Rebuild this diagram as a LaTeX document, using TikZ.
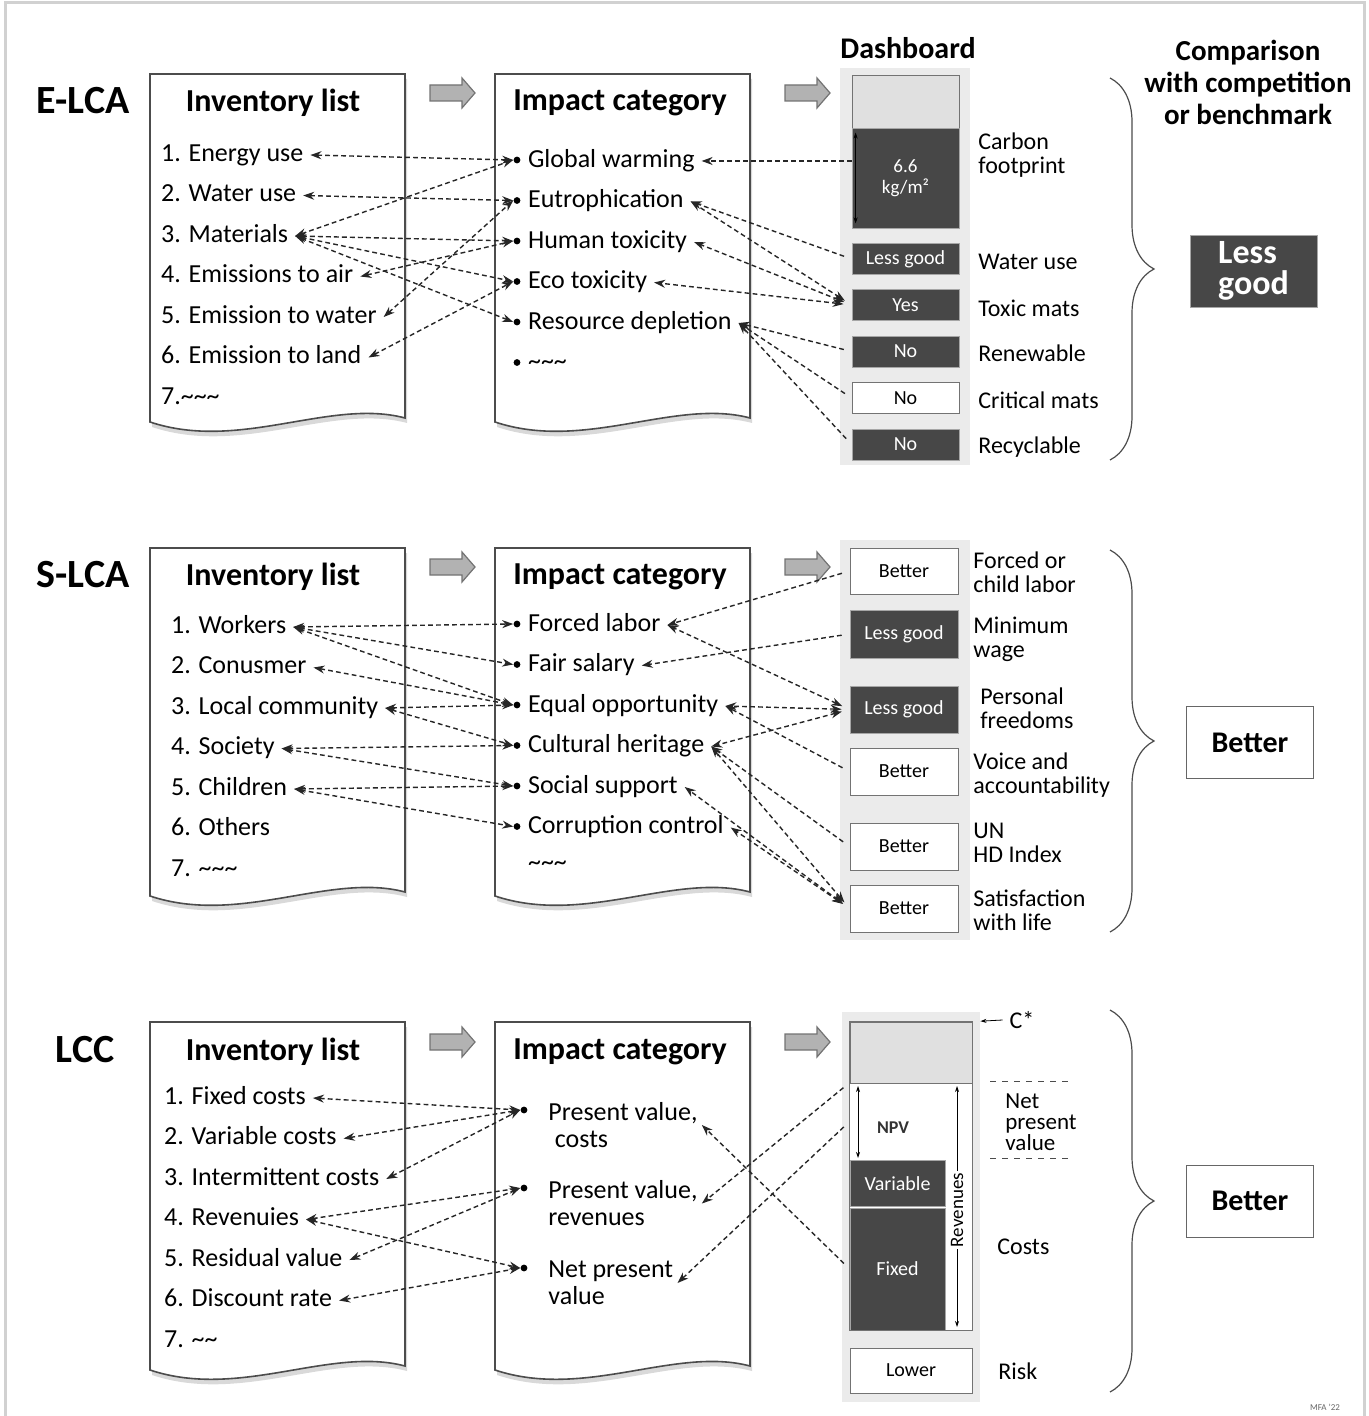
\documentclass[tikz,border=0pt]{standalone}
\usepackage{fontspec}
\setmainfont{Carlito}
\usetikzlibrary{arrows.meta,shadows,decorations.pathreplacing,calc}

\newcommand{\fsz}[2]{\fontsize{#1}{#2}\selectfont}
\newcommand{\tld}{\textasciitilde}
\newcommand{\docpage}[2]{%
  \draw[page, shift={(#1,#2)}] (0,0) -- (255,0) -- (255,344)
    .. controls (180,324) and (90,378) .. (0,348) -- cycle;}
\newcommand{\flowarr}[2]{%
  \draw[flow, shift={(#1,#2)}] (-22,-8) -- (10,-8) -- (10,-15) -- (23,0)
    -- (10,15) -- (10,8) -- (-22,8) -- cycle;}

\tikzset{
  page/.style={draw=black!70, fill=white, line width=0.8pt,
    drop shadow={shadow xshift=1pt, shadow yshift=-2.5pt, opacity=0.3}},
  lbl/.style={font=\bfseries\fsz{20}{24}},
  hdr/.style={font=\bfseries\fsz{16}{19}},
  item/.style={anchor=west, font=\fsz{13}{15}, text height=1.6ex, text depth=.3ex},
  item2/.style={anchor=west, align=left, inner sep=2pt, font=\fsz{13}{13.5}},
  dot/.style={circle, fill=black, inner sep=1.2pt},
  link/.style={dash pattern=on 2.4pt off 1.6pt, line width=0.7pt, black!85},
  flow/.style={draw=black!55, fill=black!30, line width=0.6pt},
  dark/.style={draw=black!35, fill=black!72, text=white, minimum width=53.5pt,
    minimum height=15.5pt, inner sep=0pt, font=\fsz{10}{11}},
  light/.style={dark, fill=white, draw=black!55, text=black},
  note/.style={anchor=west, align=left, inner sep=2pt, font=\fsz{12}{12}},
  result/.style={draw=black!60, fill=white, minimum width=63.5pt, minimum height=36pt,
    font=\bfseries\fsz{15}{17}},
  brc/.style={decorate, decoration={brace, amplitude=22pt}, black!70, line width=0.6pt},
}

\begin{document}
\begin{tikzpicture}[x=0.5pt, y=-0.5pt, >={Stealth[length=5.5pt,width=4pt]}]
  \useasboundingbox (0,0) rectangle (1368,1416);
  \draw[black!18, line width=1.5pt] (5,1416) -- (5,3) -- (1364,3) -- (1364,1416);

  % ---------------- E-LCA ----------------
  \node[lbl] (elca) at (83,101) {E-LCA};
  \docpage{150}{74}
  \docpage{495}{74}
  \node[hdr] (einv) at (273,103) {Inventory list};
  \node[hdr] (eimp) at (620,103) {Impact category};
  \flowarr{452}{93}
  \flowarr{807}{93}

  \foreach \t [count=\i] in {1. Energy use, 2. Water use, 3. Materials, 4. Emissions to air,
      5. Emission to water, 6. Emission to land, 7.\tld\tld\tld}
    \node[item] (e\i) at (154,{155+40.5*(\i-1)}) {\t};
  \foreach \t [count=\i] in {Global warming, Eutrophication, Human toxicity, Eco toxicity,
      Resource depletion, \tld\tld\tld}{
    \node[dot] (eb\i) at (517,{160+40.5*(\i-1)}) {};
    \node[item] (ei\i) at (521,{161+40.5*(\i-1)}) {\t};
  }

  \node[font=\bfseries\fsz{15}{18}] (edash) at (908,48) {Dashboard};
  \fill[black!8] (840,68) rectangle (970,465);
  \node[light, fill=black!12, minimum height=27.5pt] (etop) at (905.5,102.5) {};
  \node[dark, minimum height=50pt, align=center, font=\fsz{9.5}{10.5}] (ecarbon) at (905.5,178) {6.6\\kg/m²};
  \draw[<->, >={Stealth[length=3pt,width=2pt]}, line width=0.4pt]
    ($(ecarbon.north west)+(4,5)$) -- ($(ecarbon.south west)+(4,-5)$);
  \node[dark] (ed1) at (905.5,259) {Less good};
  \node[dark] (ed2) at (905.5,305) {Yes};
  \node[dark] (ed3) at (905.5,351.5) {No};
  \node[light] (ed4) at (905.5,398) {No};
  \node[dark] (ed5) at (905.5,444.5) {No};

  \node[note] (en0) at (974,155) {Carbon\\footprint};
  \node[note] (en1) at (974,262) {Water use};
  \node[note] (en2) at (974,308) {Toxic mats};
  \node[note] (en3) at (974,353) {Renewable};
  \node[note] (en4) at (974,400) {Critical mats};
  \node[note] (en5) at (974,447) {Recyclable};

  \draw[brc] (1110,78) -- (1110,460);
  \node[font=\bfseries\fsz{14.5}{16}, align=center] (ecomp) at (1248,82) {Comparison\\with competition\\or benchmark};
  \node[dark, minimum width=63.5pt, minimum height=36pt, align=left, font=\bfseries\fsz{17}{15.5}] (eres) at (1253.5,271) {Less\\good};

  \draw[link,<->] (e1.east) -- (eb1.west);
  \draw[link,<->] (e2.east) -- (eb2.west);
  \draw[link,<->] (e3.east) -- (eb1.west);
  \draw[link,<->] (e3.east) -- (eb3.west);
  \draw[link,<->] (e3.east) -- (eb4.west);
  \draw[link,<->] (e3.east) -- (eb5.west);
  \draw[link,<->] (e4.east) -- (eb3.west);
  \draw[link,<->] (e5.east) -- (eb2.west);
  \draw[link,<->] (e6.east) -- (eb4.west);

  \draw[link,->] (ecarbon.west |- ei1.east) -- (ei1.east);
  \draw[link,->,shorten <=4pt] (ed1.west) -- (ei2.east);
  \draw[link,<->,shorten <=4pt] (ed2.west) -- (ei2.east);
  \draw[link,<->,shorten <=4pt] (ed2.west) -- (ei3.east);
  \draw[link,<->,shorten <=4pt] (ed2.west) -- (ei4.east);
  \draw[link,->,shorten <=4pt] (ed3.west) -- (ei5.east);
  \draw[link,->,shorten <=4pt] (ed4.west) -- (ei5.east);
  \draw[link,->,shorten <=4pt] (ed5.west) -- (ei5.east);

  % ---------------- S-LCA ----------------
  \node[lbl] (slca) at (83,575) {S-LCA};
  \docpage{150}{548}
  \docpage{495}{548}
  \node[hdr] (sinv) at (273,577) {Inventory list};
  \node[hdr] (simp) at (620,577) {Impact category};
  \flowarr{452}{567}
  \flowarr{807}{567}

  \foreach \t [count=\i] in {1. Workers, 2. Conusmer, 3. Local community, 4. Society,
      5. Children, 6. Others, 7. \tld\tld\tld}
    \node[item] (s\i) at (164,{627+40.5*(\i-1)}) {\t};
  \foreach \t [count=\i] in {Forced labor, Fair salary, Equal opportunity, Cultural heritage,
      Social support, Corruption control}{
    \node[dot] (sb\i) at (517,{624+40.5*(\i-1)}) {};
    \node[item] (si\i) at (521,{625+40.5*(\i-1)}) {\t};
  }
  \node[item] (si7) at (521,864) {\tld\tld\tld};

  \fill[black!8] (840,540) rectangle (970,940);
  \node[light, minimum width=54pt, minimum height=23pt] (sd1) at (904,571) {Better};
  \node[dark, minimum width=54pt, minimum height=24pt] (sd2) at (904,634) {Less good};
  \node[dark, minimum width=54pt, minimum height=23.5pt] (sd3) at (904,709.5) {Less good};
  \node[light, minimum width=54pt, minimum height=23.5pt] (sd4) at (904,771.5) {Better};
  \node[light, minimum width=54pt, minimum height=23.5pt] (sd5) at (904,846.5) {Better};
  \node[light, minimum width=54pt, minimum height=23.5pt] (sd6) at (904,908.5) {Better};

  \node[note] (sn1) at (969,572) {Forced or\\child labor};
  \node[note] (sn2) at (969,639) {Minimum\\wage};
  \node[note] (sn3) at (976,708) {Personal\\freedoms};
  \node[note] (sn4) at (969,775) {Voice and\\accountability};
  \node[note] (sn5) at (969,843) {UN\\HD Index};
  \node[note] (sn6) at (969,910) {Satisfaction\\with life};

  \draw[brc] (1110,550) -- (1110,932);
  \node[result] (sres) at (1250,742.5) {Better};

  \draw[link,<->] (s1.east) -- (sb1.west);
  \draw[link,<->] (s1.east) -- (sb2.west);
  \draw[link,<->] (s1.east) -- (sb3.west);
  \draw[link,<->] (s2.east) -- (sb3.west);
  \draw[link,<->] (s3.east) -- (sb3.west);
  \draw[link,<->] (s3.east) -- (sb4.west);
  \draw[link,<->] (s4.east) -- (sb4.west);
  \draw[link,<->] (s4.east) -- (sb5.west);
  \draw[link,<->] (s5.east) -- (sb5.west);
  \draw[link,<->] (s5.east) -- (sb6.west);

  \draw[link,->,shorten <=4pt] (sd1.west) -- (si1.east);
  \draw[link,->,shorten <=4pt] (sd2.west) -- (si2.east);
  \draw[link,<->,shorten <=4pt] (sd3.west) -- (si1.east);
  \draw[link,<->,shorten <=4pt] (sd3.west) -- (si3.east);
  \draw[link,<->,shorten <=4pt] (sd3.west) -- (si4.east);
  \draw[link,->,shorten <=4pt] (sd4.west) -- (si3.east);
  \draw[link,->,shorten <=4pt] (sd5.west) -- (si4.east);
  \draw[link,<->,shorten <=4pt] (sd6.west) -- (si4.east);
  \draw[link,<->,shorten <=4pt] (sd6.west) -- (si5.east);
  \draw[link,<->,shorten <=4pt] (sd6.west) -- (si6.east);

  % ---------------- LCC ----------------
  \node[lbl] (lcc) at (85,1050) {LCC};
  \docpage{150}{1022}
  \docpage{495}{1022}
  \node[hdr] (linv) at (273,1052) {Inventory list};
  \node[hdr] (limp) at (620,1052) {Impact category};
  \flowarr{452}{1042}
  \flowarr{807}{1042}

  \foreach \t [count=\i] in {1. Fixed costs, 2. Variable costs, 3. Intermittent costs, 4. Revenuies,
      5. Residual value, 6. Discount rate, 7. \tld\tld}
    \node[item] (l\i) at (157,{1098+40.5*(\i-1)}) {\t};
  \node[dot] (lb1) at (524,1110) {};
  \node[dot] (lb2) at (524,1188) {};
  \node[dot] (lb3) at (524,1268) {};
  \node[item2] (li1) at (544,1125) {Present value,\\\hspace*{0.25em}costs};
  \node[item2] (li2) at (544,1203.5) {Present value,\\revenues};
  \node[item2] (li3) at (544,1283) {Net present\\value};

  \fill[black!8] (842,1012) rectangle (980,1402);
  \fill[white] (850,1083) rectangle (972,1330);
  \node[light, fill=black!12, minimum width=61pt, minimum height=30.5pt] (ltop) at (911,1052.5) {};
  \node[minimum width=61pt, minimum height=38.5pt, inner sep=0pt] (lnpv) at (911,1121.5) {};
  \node[dark, minimum width=47.5pt, minimum height=23pt] (lvar) at (897.5,1183.5) {Variable};
  \node[dark, minimum width=47.5pt, minimum height=61pt] (lfix) at (897.5,1269) {Fixed};
  \draw[black!55, line width=0.6pt] (ltop.north west) rectangle (lfix.south -| ltop.east);
  \draw[<->, >={Stealth[length=3pt,width=2pt]}, line width=0.4pt] (858,1086) -- (858,1158);
  \node[font=\bfseries\fsz{9}{10}, text=black!80] (lnpvt) at (893,1128) {NPV};
  \draw[<->, >={Stealth[length=3pt,width=2pt]}, line width=0.4pt] (957,1086) -- (957,1327);
  \node[fill=white, rotate=90, inner sep=1pt, font=\fsz{9.5}{10}] (lrev) at (957,1210) {Revenues};
  \node[light, minimum width=61pt, minimum height=22.5pt] (llow) at (911,1370.5) {Lower};

  \node[font=\fsz{12}{12}] (lcs) at (1022,1020) {C*};
  \draw[->, line width=0.4pt, shorten >=4pt, >={Stealth[length=3pt,width=2pt]}] (lcs.west) -- (ltop.north east);
  \draw[dashed, black!70, line width=0.5pt] (990,1081) -- (1070,1081);
  \draw[dashed, black!70, line width=0.5pt] (990,1158) -- (1070,1158);
  \node[note, font=\fsz{11.5}{10.5}] (lnote1) at (1001,1122) {Net\\present\\value};
  \node[note] (lnote2) at (993,1247) {Costs};
  \node[note] (lnote3) at (994,1371) {Risk};

  \draw[brc] (1110,1010) -- (1110,1392);
  \node[result] (lres) at (1250,1201) {Better};
  \node[font=\fsz{4.5}{5}, text=black!60] (mfa) at (1325,1407) {MFA ’22};

  \draw[link,<->] (l1.east) -- (lb1.west);
  \draw[link,<->] (l2.east) -- (lb1.west);
  \draw[link,<->] (l3.east) -- (lb1.west);
  \draw[link,<->] (l4.east) -- (lb2.west);
  \draw[link,<->] (l4.east) -- (lb3.west);
  \draw[link,<->] (l5.east) -- (lb2.west);
  \draw[link,<->] (l6.east) -- (lb3.west);

  \draw[link,->,shorten <=4pt] (lfix.west) -- (li1.east);
  \draw[link,->,shorten <=4pt] (lnpv.north west) -- (li2.east);
  \draw[link,->,shorten <=4pt] (lnpv.west) -- (li3.east);
\end{tikzpicture}
\end{document}
